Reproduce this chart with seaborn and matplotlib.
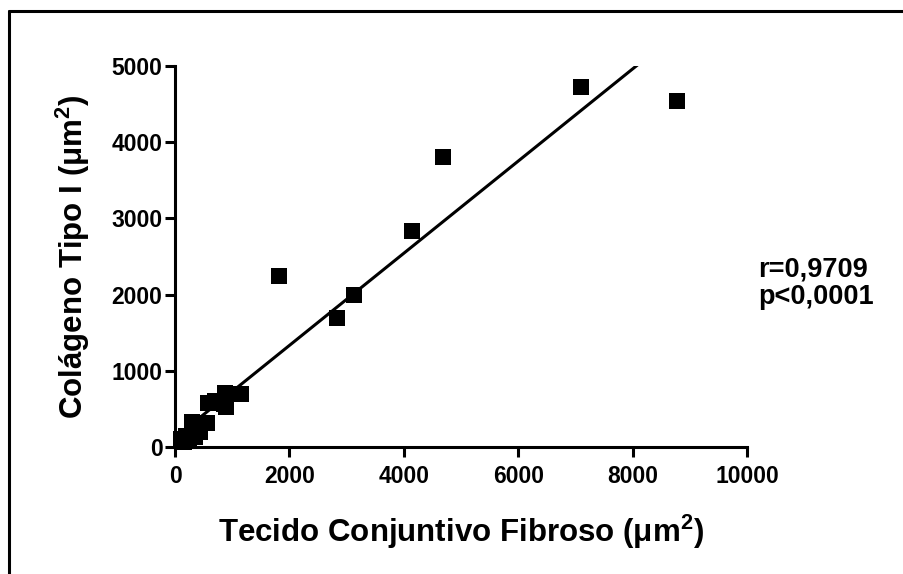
import matplotlib
matplotlib.use("Agg")
import matplotlib.pyplot as plt
from matplotlib.lines import Line2D
import seaborn as sns
import pandas as pd

# Fibrous connective tissue area vs. type I collagen area (µm²)
tecido = [100, 150, 250, 200, 300, 350, 430, 300, 450, 560, 570, 700, 850, 890, 880, 1150,
          1820, 2830, 3130, 4150, 4680, 7100, 8780]
colageno = [100, 60, 80, 150, 200, 130, 200, 330, 320, 320, 580, 600, 560, 520, 710, 700,
            2250, 1690, 2000, 2830, 3800, 4730, 4540]
x_ticks = [0, 2000, 4000, 6000, 8000, 10000]
y_ticks = [0, 1000, 2000, 3000, 4000, 5000]
stats_text = "r=0,9709\np<0,0001"

df = pd.DataFrame({"tecido": tecido, "colageno": colageno})

sns.set_style("ticks")
plt.rcParams["font.family"] = ["Liberation Sans", "DejaVu Sans"]
plt.rcParams["font.weight"] = "bold"
plt.rcParams["text.color"] = "black"
plt.rcParams["axes.labelcolor"] = "black"
plt.rcParams["xtick.color"] = "black"
plt.rcParams["ytick.color"] = "black"
plt.rcParams["mathtext.fontset"] = "custom"
plt.rcParams["mathtext.rm"] = "Liberation Sans:bold"
plt.rcParams["mathtext.bf"] = "Liberation Sans:bold"

fig = plt.figure(figsize=(9.04, 5.74), dpi=100)
ax = fig.add_axes([0.1936, 0.2213, 0.8263 - 0.1936, 0.885 - 0.2213])

sns.regplot(data=df, x="tecido", y="colageno", ax=ax, ci=None,
            marker="s", color="black",
            scatter_kws={"s": 120, "linewidths": 0, "alpha": 1, "clip_on": False, "zorder": 3},
            line_kws={"linewidth": 2.2, "color": "black"})

ax.set_xlim(0, 10000)
ax.set_ylim(0, 5000)
ax.set_xticks(x_ticks)
ax.set_yticks(y_ticks)
ax.set_xticklabels([str(v) for v in x_ticks], fontsize=16.5, fontweight="bold")
ax.set_yticklabels([str(v) for v in y_ticks], fontsize=16.5, fontweight="bold")
ax.tick_params(axis="both", length=7, width=2.2, colors="black")
ax.tick_params(axis="x", pad=6)
ax.tick_params(axis="y", pad=2)

for side in ("left", "bottom"):
    ax.spines[side].set_linewidth(2.2)
    ax.spines[side].set_color("black")
sns.despine(ax=ax)

ax.set_xlabel("Tecido Conjuntivo Fibroso (μm$^{2}$)", fontsize=22.5, fontweight="bold",
              labelpad=18, color="black")
ax.set_ylabel("Colágeno Tipo I (μm$^{2}$)", fontsize=22.5, fontweight="bold",
              labelpad=14, color="black")

fig.text(758 / 904, 1 - 283 / 574, stats_text, fontsize=19.5, fontweight="bold",
         ha="left", va="center", linespacing=1.1, color="black")

# Frame lines along the top and left edges of the figure
fig.add_artist(Line2D([9 / 904, 1.0], [1 - 11 / 574, 1 - 11 / 574], color="black", linewidth=2.2))
fig.add_artist(Line2D([9 / 904, 9 / 904], [1 - 11 / 574, 0.0], color="black", linewidth=2.2))

fig.savefig("out.png", dpi=100)
